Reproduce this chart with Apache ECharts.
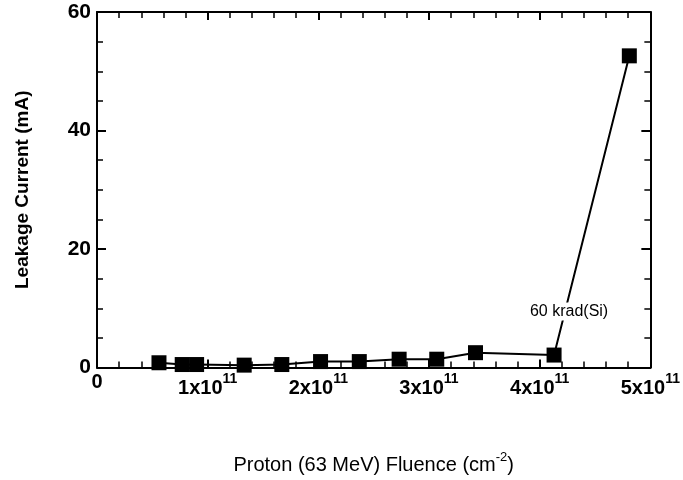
<!DOCTYPE html>
<html>
<head>
<meta charset="utf-8">
<script src="https://cdn.jsdelivr.net/npm/echarts@6/dist/echarts.min.js"></script>
<style>
  html, body { margin: 0; padding: 0; background: #fff; }
  #chart { width: 683px; height: 480px; }
</style>
</head>
<body>
<div id="chart"></div>
<script>
// 质子注量 (cm^-2)
const fluence = [0.56e11, 0.77e11, 0.9e11, 1.33e11, 1.67e11, 2.02e11, 2.37e11, 2.73e11, 3.07e11, 3.42e11, 4.13e11, 4.81e11]
// 漏电流 (mA)
const current = [0.8, 0.5, 0.5, 0.4, 0.5, 1.0, 1.0, 1.4, 1.4, 2.5, 2.1, 52.6]
// 标注
const noteIndex = 10
const noteText = '60 krad(Si)'
const xTicks = [0, 1e11, 2e11, 3e11, 4e11, 5e11]
const yTicks = [0, 20, 40, 60]

const font = "'Liberation Sans Narrow', 'Liberation Sans', Arial, sans-serif"

const points = fluence.map((x, i) => {
  const item = { value: [x, current[i]] }
  if (i === noteIndex) {
    item.label = {
      show: true,
      position: 'top',
      distance: 0,
      offset: [15, -27],
      formatter: noteText,
      color: '#000',
      fontFamily: font,
      fontSize: 16,
      backgroundColor: '#fff',
      padding: [1, 2]
    }
  }
  return item
})

const axisLine = { show: true, onZero: false, lineStyle: { color: '#000', width: 2 } }

const option = {
  animation: false,
  grid: { left: 97, right: 30, top: 12, bottom: 107 },
  xAxis: [
    {
      type: 'value',
      min: xTicks[0],
      max: xTicks[xTicks.length - 1],
      interval: 1e11,
      axisLine: axisLine,
      axisTick: { inside: true, length: 8, lineStyle: { color: '#000', width: 2 } },
      minorTick: { show: true, splitNumber: 5, length: 6, lineStyle: { color: '#000', width: 1.5 } },
      splitLine: { show: false },
      axisLabel: {
        margin: 5,
        fontFamily: font,
        formatter: v => v === 0 ? '{b|0}' : '{b|' + Math.round(v / 1e11) + 'x10}{s|11}',
        rich: {
          b: { fontSize: 20, fontWeight: 'bold', color: '#000', fontFamily: font },
          s: { fontSize: 14, fontWeight: 'bold', color: '#000', fontFamily: font, padding: [0, 0, 18, 0] }
        }
      },
      name: 'Proton (63 MeV) Fluence (cm{s|-2})',
      nameLocation: 'middle',
      nameGap: 83,
      nameTextStyle: {
        fontFamily: font, fontSize: 20, color: '#000',
        rich: { s: { fontSize: 13, color: '#000', fontFamily: font, padding: [0, 0, 16, 0] } }
      }
    },
    {
      type: 'value',
      position: 'top',
      min: xTicks[0],
      max: xTicks[xTicks.length - 1],
      interval: 1e11,
      axisLine: axisLine,
      axisTick: { inside: true, length: 8, lineStyle: { color: '#000', width: 2 } },
      minorTick: { show: true, splitNumber: 5, length: 6, lineStyle: { color: '#000', width: 1.5 } },
      splitLine: { show: false },
      axisLabel: { show: false }
    }
  ],
  yAxis: [
    {
      type: 'value',
      min: yTicks[0],
      max: yTicks[yTicks.length - 1],
      interval: 20,
      axisLine: axisLine,
      axisTick: { inside: true, length: 9, lineStyle: { color: '#000', width: 2 } },
      minorTick: { show: true, splitNumber: 4, length: 6, lineStyle: { color: '#000', width: 1.5 } },
      splitLine: { show: false },
      axisLabel: { margin: 6, fontFamily: font, fontSize: 21, fontWeight: 'bold', color: '#000' },
      name: 'Leakage Current (mA)',
      nameLocation: 'middle',
      nameGap: 65,
      nameTextStyle: { fontFamily: font, fontSize: 19, fontWeight: 'bold', color: '#000' }
    },
    {
      type: 'value',
      position: 'right',
      min: yTicks[0],
      max: yTicks[yTicks.length - 1],
      interval: 20,
      axisLine: axisLine,
      axisTick: { inside: true, length: 9, lineStyle: { color: '#000', width: 2 } },
      minorTick: { show: true, splitNumber: 4, length: 6, lineStyle: { color: '#000', width: 1.5 } },
      splitLine: { show: false },
      axisLabel: { show: false }
    }
  ],
  series: [
    {
      type: 'line',
      data: points,
      symbol: 'rect',
      symbolSize: 15,
      lineStyle: { color: '#000', width: 2 },
      itemStyle: { color: '#000' },
      z: 3
    }
  ]
}

const chart = echarts.init(document.getElementById('chart'))
chart.setOption(option)
</script>
</body>
</html>
